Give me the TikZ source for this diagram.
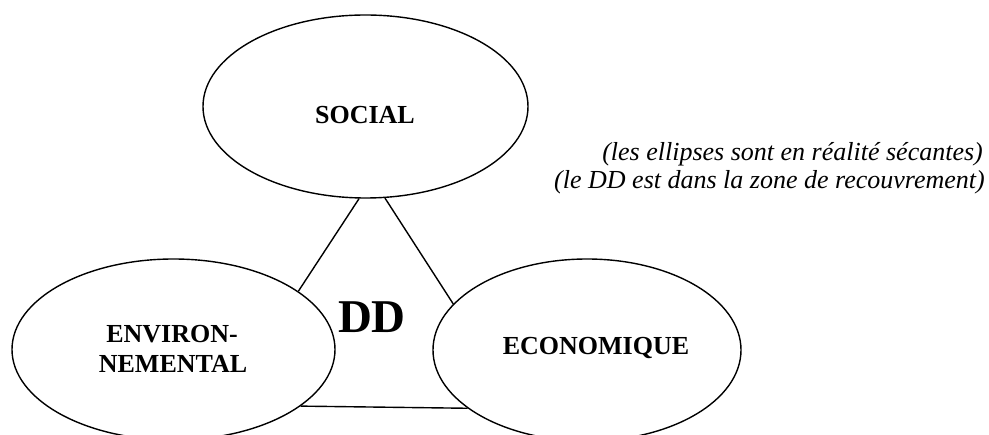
\documentclass[tikz,border=0pt]{standalone}
\usepackage{fontspec}
\setmainfont{Liberation Serif}
\usetikzlibrary{shapes.geometric}
\begin{document}
\begin{tikzpicture}[x=1pt,y=-1pt,
  oval/.style={draw,ellipse,line width=1.4pt,inner sep=0pt},
  lbl/.style={font=\fontsize{26}{30}\selectfont\bfseries,inner sep=0pt},
  note/.style={font=\fontsize{26}{28}\selectfont\itshape,inner sep=0pt},
  link/.style={line width=1.4pt}]
\useasboundingbox (0,0) rectangle (989,435);
\node[oval,minimum width=325pt,minimum height=183pt] (soc) at (365.5,106.5) {};
\node[oval,minimum width=323pt,minimum height=181pt] (env) at (173.5,349.5) {};
\node[oval,minimum width=308pt,minimum height=182pt] (eco) at (587,350) {};
\draw[link] (soc.-94) -- (env.25.4);
\draw[link] (soc.-78.6) -- (eco.161.6);
\draw[link] (env.-24.5) -- (eco.-154.6);
\node[lbl,anchor=base] (tsoc) at (365,124) {SOCIAL};
\node[lbl,anchor=base] (tenv) at (172,343) {ENVIRON-};
\node[lbl,anchor=base] (tenv2) at (173,373) {NEMENTAL};
\node[lbl,anchor=base] (teco) at (596,355) {ECONOMIQUE};
\node[inner sep=0pt,anchor=base,font=\fontsize{47}{50}\selectfont\bfseries] (dd) at (372,333) {DD};
\node[note,anchor=base east] (n1) at (983,161) {(les ellipses sont en réalité sécantes)};
\node[note,anchor=base east] (n2) at (985,189) {(le DD est dans la zone de recouvrement)};
\end{tikzpicture}
\end{document}
